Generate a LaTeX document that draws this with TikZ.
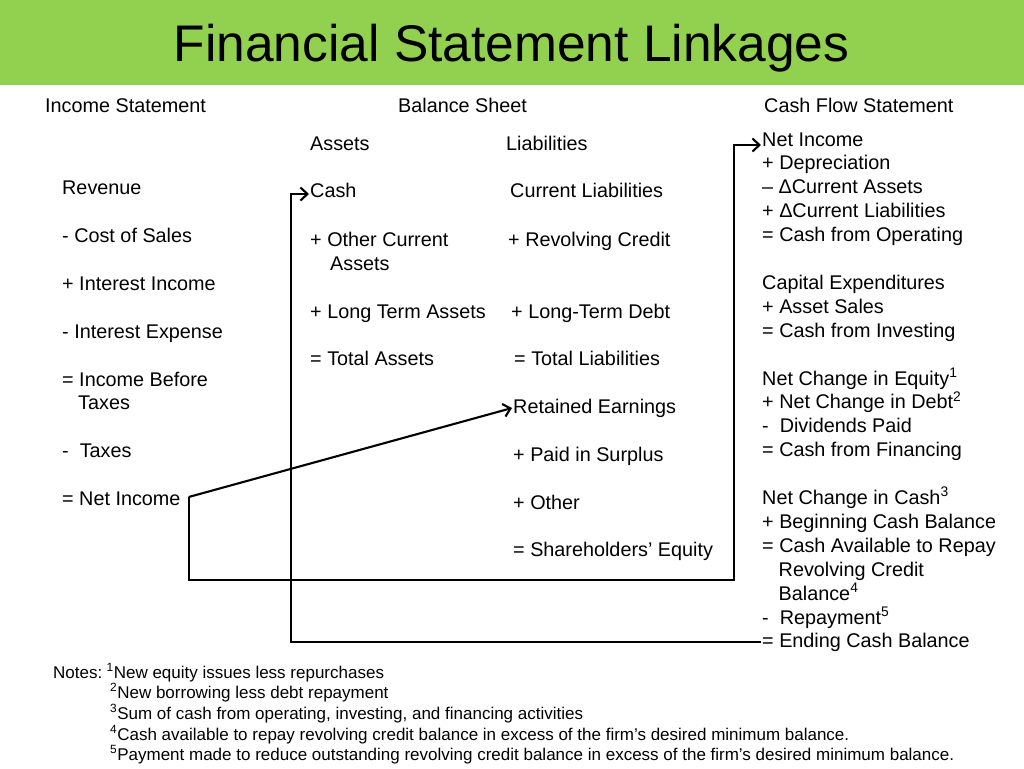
\documentclass[tikz,border=0pt]{standalone}
\usepackage{fontspec}
\setmainfont{Liberation Sans}
\usetikzlibrary{arrows.meta}
\definecolor{headgreen}{RGB}{146,208,80}
\tikzset{
  item/.style={anchor=base west, inner sep=0pt, text height=14pt, text depth=4pt,
    font=\fontsize{19.8}{24}\selectfont},
  note/.style={anchor=base west, inner sep=0pt, font=\fontsize{17}{20}\selectfont},
  link/.style={line width=2.1pt, -{Straight Barb[length=7pt,width=13pt]}},
}
\begin{document}
\begin{tikzpicture}[x=1pt,y=-1pt]
  \useasboundingbox (0,0) rectangle (1024,768);
  \fill[headgreen] (0,0) rectangle (1024,85);
  \node[anchor=base, inner sep=0pt, font=\fontsize{51.5}{60}\selectfont] (title) at (511.5,62) {Financial Statement Linkages};

  % column heads
  \node[item] (ishead) at (45,112) {Income Statement};
  \node[item] (bshead) at (398,112) {Balance Sheet};
  \node[item] (cfhead) at (764,112) {Cash Flow Statement};

  % income statement
  \node[item] (isrev) at (62,194) {Revenue};
  \node[item] (iscos) at (62,242) {- Cost of Sales};
  \node[item] (isii) at (62,290) {+ Interest Income};
  \node[item] (isie) at (62,338) {- Interest Expense};
  \node[item] (isibt) at (62,386) {= Income Before};
  \node[item] (isibtb) at (78,409) {Taxes};
  \node[item] (istax) at (62,457) {-\ \ Taxes};
  \node[item] (isni) at (62,505) {= Net Income};

  % balance sheet
  \node[item] (bsa) at (310,150) {Assets};
  \node[item] (bsl) at (506,150) {Liabilities};
  \node[item] (cash) at (310,197) {Cash};
  \node[item] (bsoca) at (310,246) {+ Other Current};
  \node[item] (bsocb) at (330,270) {Assets};
  \node[item] (bslta) at (310,318) {+ Long Term Assets};
  \node[item] (bsta) at (310,365) {= Total Assets};
  \node[item] (bscl) at (510,197) {Current Liabilities};
  \node[item] (bsrc) at (508,246) {+ Revolving Credit};
  \node[item] (bsltd) at (511,318) {+ Long-Term Debt};
  \node[item] (bstl) at (514,365) {= Total Liabilities};
  \node[item] (re) at (513,413) {Retained Earnings};
  \node[item] (bspis) at (513,461) {+ Paid in Surplus};
  \node[item] (bsoth) at (513,509) {+ Other};
  \node[item] (bsse) at (513,556) {= Shareholders’ Equity};

  % cash flow statement
  \foreach \t [count=\i] in {Net Income, + Depreciation, –\ ΔCurrent Assets,
      + ΔCurrent Liabilities, = Cash from Operating, {},
      Capital Expenditures, + Asset Sales, = Cash from Investing, {},
      Net Change in Equity\textsuperscript{1}, + Net Change in Debt\textsuperscript{2},
      -\ \ Dividends Paid, = Cash from Financing, {},
      Net Change in Cash\textsuperscript{3}, + Beginning Cash Balance,
      = Cash Available to Repay, \hspace*{16.5pt}Revolving Credit,
      \hspace*{16.5pt}Balance\textsuperscript{4}, -\ \ Repayment\textsuperscript{5},
      = Ending Cash Balance}
    \node[item] (cf\i) at (762,146+23.9*\i-23.9) {\t};

  % notes
  \node[note] (notes) at (53,678) {Notes:};
  \node[note] (n1) at (106.5,678) {\textsuperscript{1}New equity issues less repurchases};
  \node[note] (n2) at (110,698) {\textsuperscript{2}New borrowing less debt repayment};
  \node[note] (n3) at (110,719) {\textsuperscript{3}Sum of cash from operating, investing, and financing activities};
  \node[note] (n4) at (110,740) {\textsuperscript{4}Cash available to repay revolving credit balance in excess of the firm’s desired minimum balance.};
  \node[note] (n5) at (110,760) {\textsuperscript{5}Payment made to reduce outstanding revolving credit balance in excess of the firm’s desired minimum balance.};

  % linkages
  \coordinate (nistart) at ([xshift=8pt,yshift=3pt]isni.east);
  \coordinate (loopcorner) at (734,580);
  \coordinate (cashin) at ([xshift=-1pt,yshift=-2pt]cash.west);
  \draw[link] (nistart) -- ([xshift=-1pt]re.west);
  \draw[link] (nistart) |- (loopcorner) |- ([xshift=-1pt,yshift=-4pt]cf1.west);
  \draw[link] ([xshift=-1pt,yshift=1pt]cf22.west) -| ([xshift=-18pt]cashin) -- (cashin);
\end{tikzpicture}
\end{document}
